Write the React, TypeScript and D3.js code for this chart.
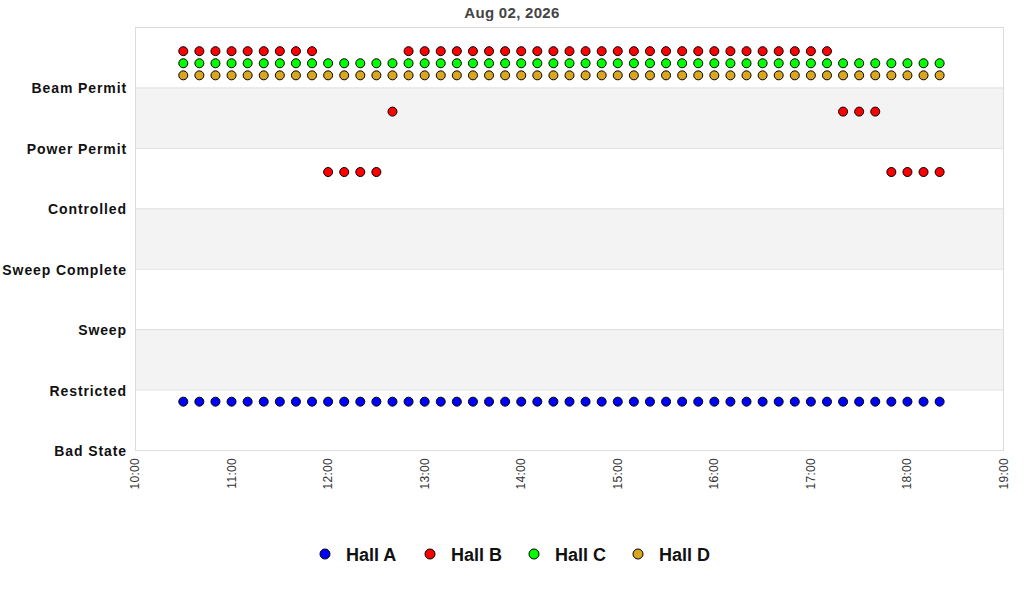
import * as d3 from 'd3'

const title = 'Aug 02, 2026'
const stateLabels = ['Bad State', 'Restricted', 'Sweep', 'Sweep Complete', 'Controlled', 'Power Permit', 'Beam Permit']
const hourTicks = ['10:00', '11:00', '12:00', '13:00', '14:00', '15:00', '16:00', '17:00', '18:00', '19:00']

const times = [
    '10:30', '10:40', '10:50', '11:00', '11:10', '11:20', '11:30', '11:40', '11:50',
    '12:00', '12:10', '12:20', '12:30', '12:40', '12:50',
    '13:00', '13:10', '13:20', '13:30', '13:40', '13:50',
    '14:00', '14:10', '14:20', '14:30', '14:40', '14:50',
    '15:00', '15:10', '15:20', '15:30', '15:40', '15:50',
    '16:00', '16:10', '16:20', '16:30', '16:40', '16:50',
    '17:00', '17:10', '17:20', '17:30', '17:40', '17:50',
    '18:00', '18:10', '18:20'
]

const hallA = [
    0, 0, 0, 0, 0, 0, 0, 0, 0, 0, 0, 0, 0, 0, 0, 0, 0, 0, 0, 0, 0, 0, 0, 0,
    0, 0, 0, 0, 0, 0, 0, 0, 0, 0, 0, 0, 0, 0, 0, 0, 0, 0, 0, 0, 0, 0, 0, 0
]
const hallB = [
    6, 6, 6, 6, 6, 6, 6, 6, 6,
    4, 4, 4, 4, 5,
    6, 6, 6, 6, 6, 6, 6, 6, 6, 6, 6, 6, 6, 6, 6, 6, 6, 6, 6, 6, 6, 6, 6, 6, 6, 6, 6,
    5, 5, 5,
    4, 4, 4, 4
]
const hallC = [
    6, 6, 6, 6, 6, 6, 6, 6, 6, 6, 6, 6, 6, 6, 6, 6, 6, 6, 6, 6, 6, 6, 6, 6,
    6, 6, 6, 6, 6, 6, 6, 6, 6, 6, 6, 6, 6, 6, 6, 6, 6, 6, 6, 6, 6, 6, 6, 6
]
const hallD = [
    6, 6, 6, 6, 6, 6, 6, 6, 6, 6, 6, 6, 6, 6, 6, 6, 6, 6, 6, 6, 6, 6, 6, 6,
    6, 6, 6, 6, 6, 6, 6, 6, 6, 6, 6, 6, 6, 6, 6, 6, 6, 6, 6, 6, 6, 6, 6, 6
]

const halls = [
    { name: 'Hall A', values: hallA, offset: 0.8, color: '#0000ff' },
    { name: 'Hall B', values: hallB, offset: 0.6, color: '#ff0000' },
    { name: 'Hall C', values: hallC, offset: 0.4, color: '#00ff00' },
    { name: 'Hall D', values: hallD, offset: 0.2, color: '#daa520' }
]

const W = 1024
const H = 600
const margin = { left: 135, right: 20, top: 27, bottom: 150 }

const toMinutes = (t: string) => {
    const [h, m] = t.split(':').map(Number)
    return h * 60 + m
}

export default function App() {
    const x = d3.scaleLinear()
        .domain([toMinutes(hourTicks[0]), toMinutes(hourTicks[hourTicks.length - 1])])
        .range([margin.left, W - margin.right])
    const y = d3.scaleLinear()
        .domain([0, stateLabels.length])
        .range([H - margin.bottom, margin.top])

    const font = '"Liberation Sans", Arial, sans-serif'
    const bands = d3.range(stateLabels.length)
    const legendX = [325, 430, 534, 638]

    return (
        <svg width={W} height={H} style={{ position: 'absolute', left: 0, top: 0 }} fontFamily={font}>
            <rect width={W} height={H} fill="#fff" />
            <text x={512} y={18} textAnchor="middle" fontSize={15} fontWeight="bold" fill="#444" letterSpacing={0.3}>{title}</text>

            {bands.map(i => (
                <rect key={i} x={x.range()[0]} width={x.range()[1] - x.range()[0]}
                    y={y(i + 1)} height={y(i) - y(i + 1)}
                    fill={i % 2 === 1 ? '#f3f3f3' : '#fff'} />
            ))}
            {stateLabels.map((s, i) => (
                <line key={s} x1={x.range()[0]} x2={x.range()[1]} y1={y(i) + 0.5} y2={y(i) + 0.5} stroke="#e0e0e0" />
            ))}
            <rect x={x.range()[0] + 0.5} y={y(stateLabels.length) + 0.5}
                width={x.range()[1] - x.range()[0] - 1} height={y(0) - y(stateLabels.length)}
                fill="none" stroke="#dcdcdc" />

            {stateLabels.map((s, i) => (
                <text key={s} x={127} y={y(i) + 6} textAnchor="end" fontSize={14} fontWeight="bold"
                    fill="#111" letterSpacing={0.9}>{s}</text>
            ))}
            {hourTicks.map(t => (
                <text key={t} transform={`translate(${x(toMinutes(t)) + 4},${y(0) + 8}) rotate(-90)`}
                    textAnchor="end" fontSize={12} fill="#333" letterSpacing={0.3}>{t}</text>
            ))}

            {halls.map(h => (
                <g key={h.name}>
                    {h.values.map((v, i) => (
                        <circle key={i} cx={x(toMinutes(times[i]))} cy={y(v + h.offset)} r={4.5}
                            fill={h.color} stroke="#000" strokeWidth={1} />
                    ))}
                </g>
            ))}

            {halls.map((h, i) => (
                <g key={h.name} transform={`translate(${legendX[i]},554)`}>
                    <circle r={5} fill={h.color} stroke="#000" />
                    <text x={21} y={6.5} fontSize={18} fontWeight="bold" fill="#111">{h.name}</text>
                </g>
            ))}
        </svg>
    )
}
